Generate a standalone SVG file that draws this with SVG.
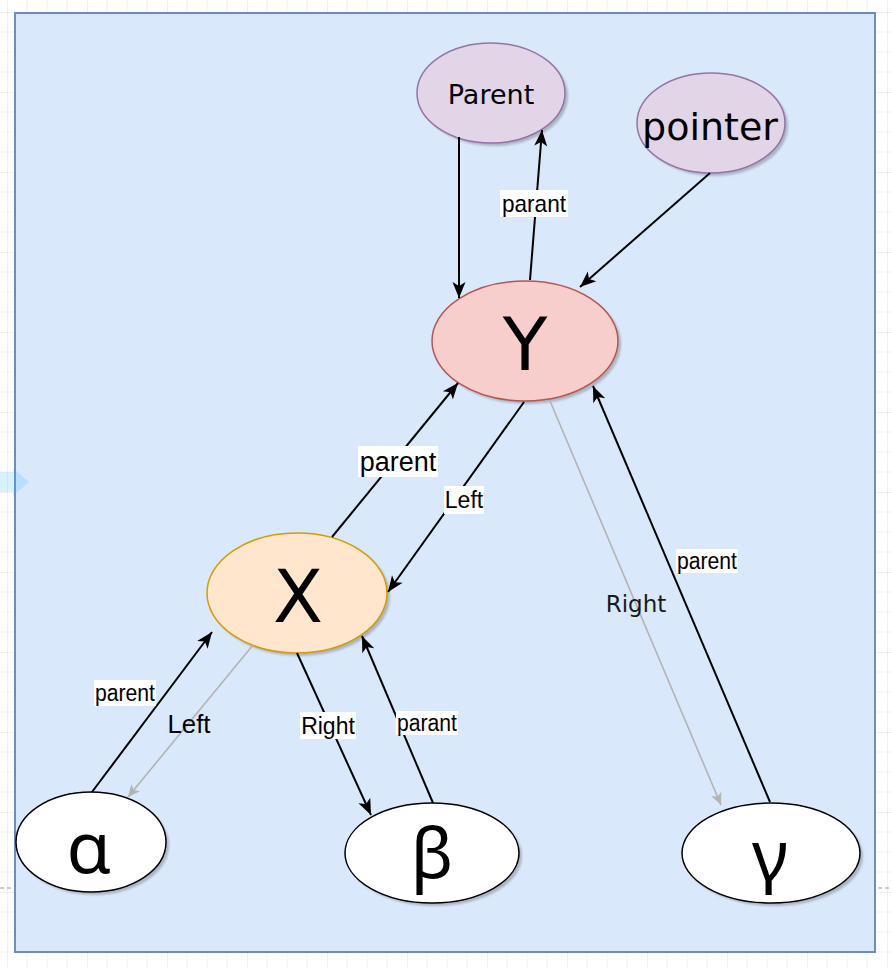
<svg xmlns="http://www.w3.org/2000/svg" width="892" height="968" viewBox="0 0 892 968">
<defs>
<pattern id="grid" x="7" y="12" width="80" height="80" patternUnits="userSpaceOnUse">
<path d="M0,0 V80 M20,0 V80 M40,0 V80 M60,0 V80 M0,0 H80 M0,20 H80 M0,40 H80 M0,60 H80" stroke="#f2f2f2" stroke-width="1" fill="none"/>
<path d="M0,0 V80 M0,0 H80" stroke="#e6e6e6" stroke-width="1" fill="none"/>
</pattern>
<filter id="sh" x="-20%" y="-20%" width="140%" height="140%">
<feGaussianBlur stdDeviation="1.2"/>
</filter>
<marker id="ab" markerUnits="userSpaceOnUse" markerWidth="18" markerHeight="16" refX="17" refY="8" orient="auto">
<path d="M1,1.5 L17,8 L1,14.5 L5,8 Z" fill="#000"/>
</marker>
<marker id="ag" markerUnits="userSpaceOnUse" markerWidth="14" markerHeight="14" refX="13" refY="7" orient="auto">
<path d="M1,1.5 L13,7 L1,12.5 L4,7 Z" fill="#b3b3b3"/>
</marker>
<style>
.shadow{fill:#000;opacity:0.22;filter:url(#sh)}
.purple{fill:#e1d5e7;stroke:#9673a6;stroke-width:1.5}
.red{fill:#f8cecc;stroke:#b85450;stroke-width:1.5}
.orange{fill:#ffe6cc;stroke:#d79b00;stroke-width:1.5}
.white{fill:#ffffff;stroke:#000000;stroke-width:1.5}
.nt{font-family:"DejaVu Sans",Verdana,sans-serif;fill:#000;text-anchor:middle}
.gk{font-family:"Noto Sans","DejaVu Sans",sans-serif;fill:#000;text-anchor:middle}
.e{stroke:#000;stroke-width:2;fill:none;marker-end:url(#ab)}
.eg{stroke:#b3b3b3;stroke-width:1.6;fill:none;marker-end:url(#ag)}
.lb{fill:#ffffff}
.lt{font-family:"Liberation Sans",Arial,sans-serif;fill:#000;text-anchor:middle;dominant-baseline:central}
.lt2{font-family:"DejaVu Sans",Verdana,sans-serif;fill:#1a1a1a;text-anchor:middle}
</style>
</defs>
<rect x="0" y="0" width="892" height="968" fill="#ffffff"/>
<rect x="0" y="0" width="892" height="968" fill="url(#grid)"/>
<path d="M0,888 H12 M878,888 H892" stroke="#9a9a9a" stroke-width="1" stroke-dasharray="4,3"/>
<rect id="container" x="15" y="13" width="860" height="939" fill="#dae8fc" stroke="#6c8ebf" stroke-width="2"/>
<polygon points="0,472 13,472 13,468 29,482 13,496 13,492 0,492" fill="#29b6f2" opacity="0.18"/>

<g id="node-parent">
<ellipse class="shadow" cx="494" cy="96" rx="74" ry="50"/>
<ellipse class="purple" cx="491" cy="93" rx="74" ry="50"/>
<text class="nt" x="491" y="104" font-size="27">Parent</text>
</g>
<g id="node-pointer">
<ellipse class="shadow" cx="714" cy="126" rx="74" ry="50"/>
<ellipse class="purple" cx="711" cy="123" rx="74" ry="50"/>
<text class="nt" x="710" y="140" font-size="38">pointer</text>
</g>
<g id="node-Y">
<ellipse class="shadow" cx="528" cy="344" rx="93" ry="60"/>
<ellipse class="red" cx="525" cy="341" rx="93" ry="60"/>
<text class="nt" x="525" y="370" font-size="73">Y</text>
</g>
<g id="node-X">
<ellipse class="shadow" cx="300" cy="596" rx="90" ry="60"/>
<ellipse class="orange" cx="297" cy="593" rx="90" ry="60"/>
<text class="nt" x="298" y="622" font-size="73">X</text>
</g>
<g id="node-alpha">
<ellipse class="shadow" cx="94" cy="845" rx="75" ry="50"/>
<ellipse class="white" cx="91" cy="842" rx="75" ry="50"/>
<text class="gk" x="89" y="873" font-size="72">α</text>
</g>
<g id="node-beta">
<ellipse class="shadow" cx="435" cy="856" rx="87" ry="50"/>
<ellipse class="white" cx="432" cy="853" rx="87" ry="50"/>
<text class="gk" x="432" y="878" font-size="70">β</text>
</g>
<g id="node-gamma">
<ellipse class="shadow" cx="774" cy="856" rx="89" ry="50"/>
<ellipse class="white" cx="771" cy="853" rx="89" ry="50"/>
<text class="gk" x="770" y="880" font-size="70">γ</text>
</g>

<g id="connectors">
<path class="e" d="M459,137 L459,298"/>
<path class="e" d="M530,280 L542,130"/>
<path class="e" d="M710,173 L580,287"/>
<path class="e" d="M332,537 L458,383"/>
<path class="e" d="M524,402 L388,592"/>
<path class="eg" d="M550,401 L721,805"/>
<path class="e" d="M770,802 L593,386"/>
<path class="e" d="M92,792 L212,632"/>
<path class="eg" d="M253,645 L128,797"/>
<path class="e" d="M297,653 L371,815"/>
<path class="e" d="M433,803 L362,636"/>

<rect class="lb" x="500" y="190" width="68" height="27"/>
<text class="lt" x="534" y="203.5" font-size="24" textLength="64" lengthAdjust="spacingAndGlyphs">parant</text>
<rect class="lb" x="358" y="446" width="80" height="31"/>
<text class="lt" x="398" y="461.5" font-size="27">parent</text>
<rect class="lb" x="444" y="486" width="40" height="28"/>
<text class="lt" x="464" y="500" font-size="23">Left</text>
<rect class="lb" x="676" y="549" width="62" height="24"/>
<text class="lt" x="707" y="561" font-size="23" textLength="60" lengthAdjust="spacingAndGlyphs">parent</text>
<text class="lt2" x="636" y="612" font-size="23">Right</text>
<rect class="lb" x="94" y="680" width="62" height="26"/>
<text class="lt" x="125" y="693" font-size="23" textLength="60" lengthAdjust="spacingAndGlyphs">parent</text>
<text class="lt" x="189" y="724" font-size="25" textLength="43" lengthAdjust="spacingAndGlyphs">Left</text>
<rect class="lb" x="300" y="712" width="56" height="27"/>
<text class="lt" x="328" y="725.5" font-size="23">Right</text>
<rect class="lb" x="396" y="711" width="62" height="24"/>
<text class="lt" x="427" y="723" font-size="23" textLength="60" lengthAdjust="spacingAndGlyphs">parant</text>
</g>
</svg>
